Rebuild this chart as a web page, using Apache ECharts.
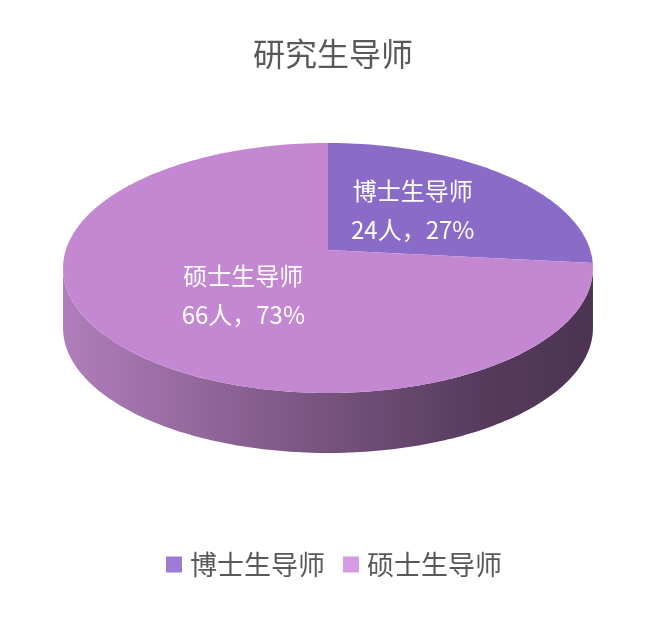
<!DOCTYPE html>
<html><head><meta charset="utf-8">
<script src="https://cdn.jsdelivr.net/npm/echarts@6/dist/echarts.min.js"></script>
<style>html,body{margin:0;padding:0;background:#fff}#c{width:655px;height:618px}</style>
</head><body><div id="c"></div>
<script>
const categories = ['博士生导师', '硕士生导师'];
const values = [24, 66];
const unit = '人';
const titleText = '研究生导师';

const topColors = ['#8A6CC8', '#C488D2'];
const legendColors = ['#9B7BD6', '#D49BE2'];
const FONT = '"Noto Sans CJK SC", "Microsoft YaHei", sans-serif';

const total = values.reduce((a, b) => a + b, 0);
const pct = values.map(v => Math.round(v / total * 100));

const chart = echarts.init(document.getElementById('c'));

// tilted disc seen in perspective: apex (X0,Y0), perspective factor k
const G = { X0: 328, Y0: 250, k: 0.144, A: 262.2, B: 122.4, depth: 60 };
// t measured clockwise from 12 o'clock on the (untilted) disc
function pt(t, dy, f) {
  f = f == null ? 1 : f;
  const u = f * Math.sin(t), v = -f * Math.cos(t);
  const w = 1 - G.k * v;
  return [G.X0 + G.A * u / w, G.Y0 + G.B * v / w + (dy || 0)];
}

function renderItem(params, api) {
  const i = params.dataIndex;
  let start = 0;
  for (let k = 0; k < i; k++) start += values[k];
  const a0 = start / total * Math.PI * 2;
  const a1 = (start + values[i]) / total * Math.PI * 2;
  const children = [];
  // side wall: visible between the two horizontal extremes of the disc
  const tR = Math.acos(-G.k), tL = Math.PI * 2 - tR;
  const s0 = Math.max(a0, tR), s1 = Math.min(a1, tL);
  if (s1 > s0) {
    const n = 160, top = [], bot = [];
    for (let j = 0; j <= n; j++) {
      const t = s0 + (s1 - s0) * j / n;
      top.push(pt(t));
      bot.push(pt(t, G.depth));
    }
    const xl = pt(tL)[0], xr = pt(tR)[0];
    children.push({
      type: 'polygon', z2: 1,
      shape: { points: top.concat(bot.reverse()) },
      style: {
        fill: new echarts.graphic.LinearGradient(xl, 0, xr, 0, [
          { offset: 0, color: '#B07EBB' },
          { offset: 0.45, color: '#7C5783' },
          { offset: 0.8, color: '#553A5C' },
          { offset: 1, color: '#4D3453' }
        ], true)
      }
    });
  }
  // top face
  const pts = [pt(0, 0, 0)];
  const n = Math.max(4, Math.ceil((a1 - a0) * 60));
  for (let j = 0; j <= n; j++) pts.push(pt(a0 + (a1 - a0) * j / n));
  children.push({ type: 'polygon', z2: 10, shape: { points: pts }, style: { fill: topColors[i] } });
  // label
  const mid = (a0 + a1) / 2;
  const lx = 328 + 265 * 0.43 * Math.sin(mid);
  const ly = 268 - 15 - 125 * 0.51 * Math.cos(mid);
  children.push({
    type: 'text', z2: 20, x: lx, y: ly,
    style: {
      text: categories[i] + '\n' + api.value(0) + unit + '，' + pct[i] + '%',
      fill: '#ffffff', font: '24px ' + FONT, lineHeight: 39,
      align: 'center', verticalAlign: 'middle'
    }
  });
  return { type: 'group', children };
}

const series = [{
  type: 'custom', name: 'pie3d', coordinateSystem: 'none',
  renderItem, data: values.map(v => [v]), silent: true, animation: false
}];
categories.forEach((c, i) => series.push({
  type: 'custom', name: c, coordinateSystem: 'none', color: legendColors[i],
  renderItem: () => ({ type: 'group', children: [] }), data: [], animation: false
}));

chart.setOption({
  animation: false,
  title: {
    text: titleText, left: 248, top: 33,
    textStyle: { color: '#595959', fontSize: 32, fontWeight: 'normal', fontFamily: FONT }
  },
  legend: {
    bottom: 35, left: 161, icon: 'rect', itemWidth: 16, itemHeight: 16, itemGap: 18,
    data: categories,
    textStyle: { color: '#595959', fontSize: 27, fontFamily: FONT, padding: [0, 0, 0, 3] }
  },
  series
});
</script></body></html>
